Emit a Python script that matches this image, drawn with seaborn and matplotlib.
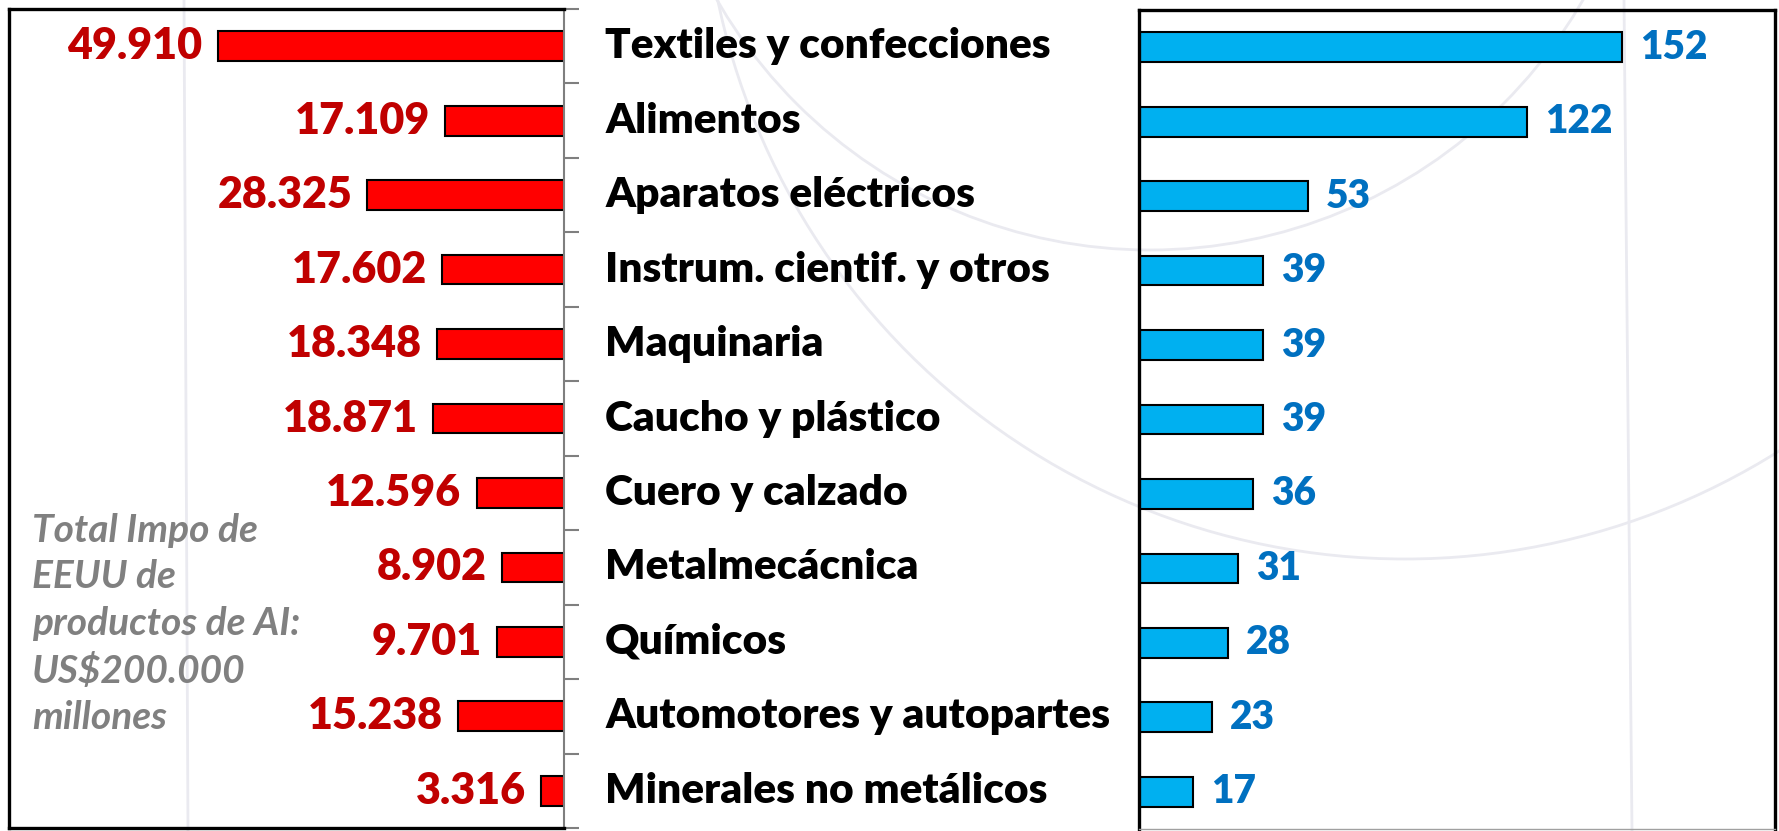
import numpy as np
import pandas as pd
import matplotlib
matplotlib.use("Agg")
import matplotlib.pyplot as plt
from matplotlib.patches import Circle
import seaborn as sns

# data
sectores = ["Textiles y confecciones", "Alimentos", "Aparatos eléctricos",
            "Instrum. cientif. y otros", "Maquinaria", "Caucho y plástico",
            "Cuero y calzado", "Metalmecácnica", "Químicos",
            "Automotores y autopartes", "Minerales no metálicos"]
impo_eeuu = [49910, 17109, 28325, 17602, 18348, 18871, 12596, 8902, 9701, 15238, 3316]
impo_labels = ["49.910", "17.109", "28.325", "17.602", "18.348", "18.871",
               "12.596", "8.902", "9.701", "15.238", "3.316"]
n_empresas = [152, 122, 53, 39, 39, 39, 36, 31, 28, 23, 17]
nota = "Total Impo de\nEEUU de\nproductos de AI:\nUS$200.000\nmillones"

df = pd.DataFrame({"sector": sectores, "impo": impo_eeuu, "emp": n_empresas})

sns.set_theme(style="white")
plt.rcParams["font.family"] = ["Lato", "DejaVu Sans"]

W, H = 1779, 831
fig = plt.figure(figsize=(W / 100, H / 100), dpi=100)
fig.patch.set_facecolor("white")

# faint watermark arcs in the background
bg = fig.add_axes([0, 0, 1, 1], zorder=-5)
bg.set_xlim(0, W)
bg.set_ylim(H, 0)
bg.axis("off")
wm = "#eaeaf0"
for cx, cy, r in [(1405, -143, 702), (1150, -250, 500)]:
    bg.add_patch(Circle((cx, cy), r, fill=False, ec=wm, lw=2))
bg.plot([184, 188], [0, H], color=wm, lw=2)
bg.plot([1624, 1632], [0, H], color=wm, lw=2)

# left panel: imports
ax_l = fig.add_axes([9 / W, 3 / H, 555 / W, 819 / H])
ax_l.set_facecolor("none")
sns.barplot(data=df, x="impo", y="sector", orient="h", color="#FF0000",
            saturation=1, edgecolor="black", linewidth=1.5, width=0.4, ax=ax_l)
ax_l.set_xlim(80000, 0)
ax_l.set_ylim(10.5, -0.5)
ax_l.set_xlabel("")
ax_l.set_ylabel("")
ax_l.set_xticks([])
ax_l.yaxis.tick_right()
ax_l.set_yticks(np.arange(-0.5, 11, 1))
ax_l.set_yticklabels([])
ax_l.tick_params(axis="y", which="major", right=True, left=False, direction="out",
                 length=11, width=1.5, color="#7f7f7f")
for s in ["top", "left", "bottom"]:
    ax_l.spines[s].set_visible(True)
    ax_l.spines[s].set_color("black")
    ax_l.spines[s].set_linewidth(2.4)
ax_l.spines["right"].set_color("#7f7f7f")
ax_l.spines["right"].set_linewidth(1.5)

for i, (v, lab) in enumerate(zip(impo_eeuu, impo_labels)):
    ax_l.annotate(lab, xy=(v, i), xytext=(-11, 0), textcoords="offset points",
                  ha="right", va="center", fontsize=31, fontweight="heavy",
                  color="#C00000")

for i, s in enumerate(sectores):
    ax_l.text(1.074, i, s, transform=ax_l.get_yaxis_transform(), ha="left",
              va="center", fontsize=30.5, fontweight="heavy", color="black")

fig.text(32 / W, 1 - 624 / H, nota, ha="left", va="center", fontsize=28,
         fontweight="bold", fontstyle="italic", color="#808080", linespacing=1.39)

# right panel: number of firms
ax_r = fig.add_axes([1139 / W, 2 / H, 636 / W, 819 / H])
ax_r.set_facecolor("none")
sns.barplot(data=df, x="emp", y="sector", orient="h", color="#00B0F0",
            saturation=1, edgecolor="black", linewidth=1.5, width=0.4, ax=ax_r)
ax_r.set_xlim(0, 200)
ax_r.set_ylim(10.5, -0.5)
ax_r.set_xlabel("")
ax_r.set_ylabel("")
ax_r.set_xticks([])
ax_r.set_yticks([])
for s in ["top", "left", "right"]:
    ax_r.spines[s].set_visible(True)
    ax_r.spines[s].set_color("black")
    ax_r.spines[s].set_linewidth(2.4)
ax_r.spines["bottom"].set_color("#a0a0a0")
ax_r.spines["bottom"].set_linewidth(1)

for i, v in enumerate(n_empresas):
    ax_r.annotate(str(v), xy=(v, i), xytext=(13, 0), textcoords="offset points",
                  ha="left", va="center", fontsize=28, fontweight="heavy",
                  color="#0070C0")

fig.savefig("out.png", dpi=100, facecolor="white")
